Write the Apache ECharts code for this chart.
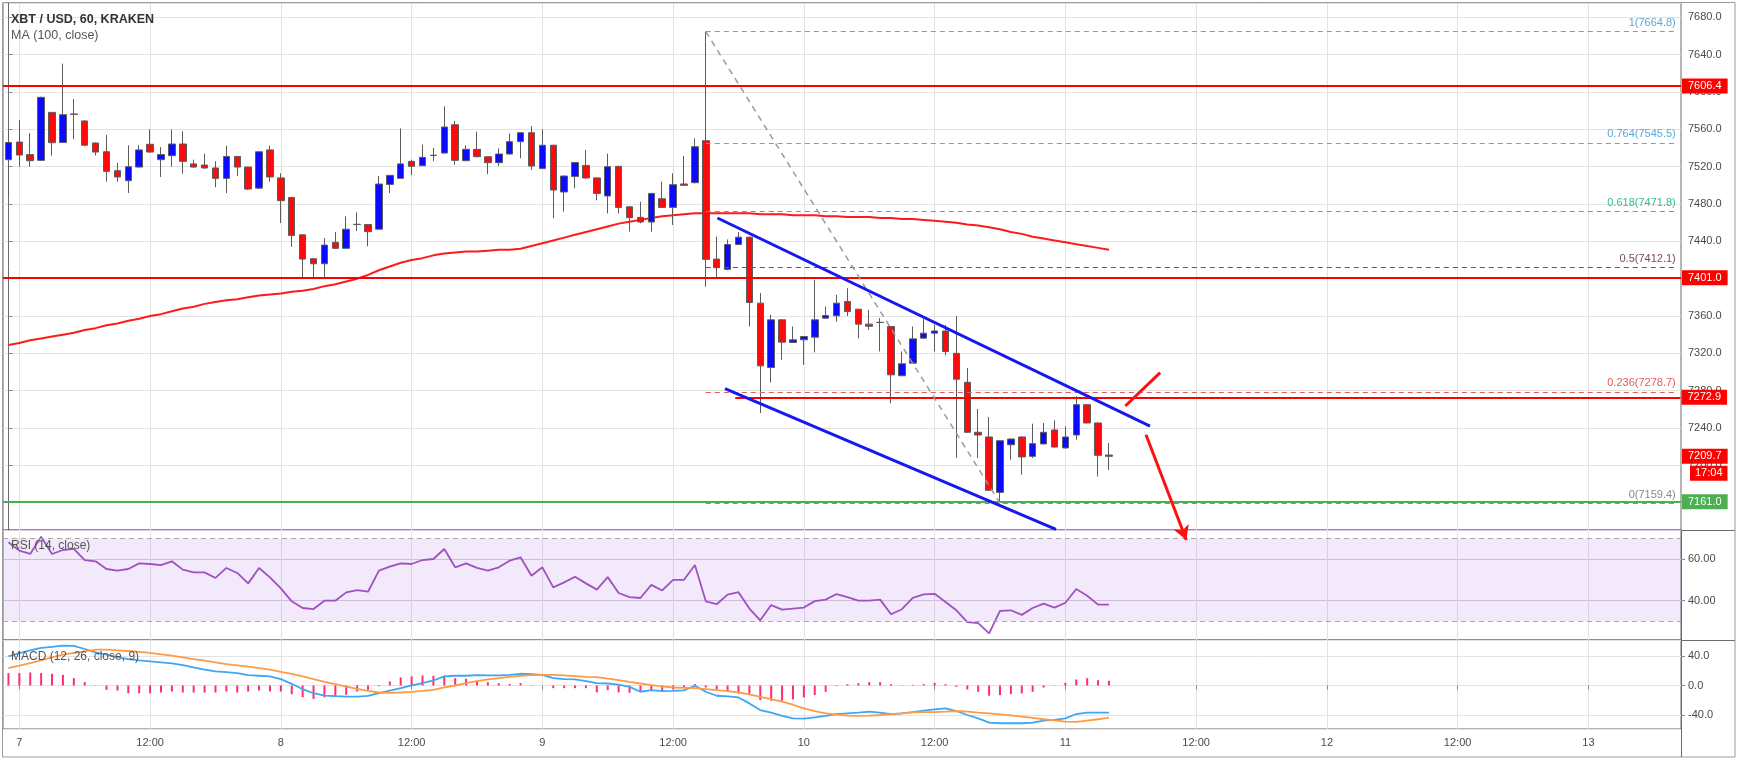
<!DOCTYPE html>
<html><head><meta charset="utf-8">
<script src="https://cdn.jsdelivr.net/npm/echarts@6/dist/echarts.min.js"></script>
<style>html,body{margin:0;padding:0;background:#fff;}#c{width:1739px;height:760px;}</style>
</head><body><div id="c"></div>
<script>
// ---------- DATA ----------
const startDay = 6, startHour = 23, slotCount = 154;

const open = [7527.5,7546.4,7533,7526.8,7578.2,7546,7576.5,7569,7545.4,7536,
7515.7,7505,7519.6,7544,7527.5,7531.8,7544.3,7523,7521.8,7518.6,
7507.5,7531,7519.6,7497,7538,7508,7487,7447,7421.4,7416,
7439,7432.5,7458.3,7458,7453,7501,7507.5,7525.7,7521,7532,
7534.6,7565,7526.4,7538.6,7530.7,7524.3,7533.6,7546.8,7556.4,7518,
7543,7492.9,7509.6,7521.4,7508,7488.6,7520.4,7477,7465.7,7460.7,
7485.7,7476.4,7501.5,7502.9,7547.9,7421,7410,7436.6,7444.5,7373.8,
7304.8,7355.9,7331.6,7334.5,7337.3,7357.7,7360.2,7375.5,7367.3,7351.3,
7353.3,7348.8,7296,7309.5,7336.3,7341.6,7344,7320,7289,7235.4,
7230.4,7171,7222,7230.4,7209.6,7222.9,7237.9,7218.6,7232.5,7265,
7245.4,7211];
const close = [7546,7532.5,7526.4,7594.3,7545.7,7575.7,7576,7543,7535.7,7515,
7509,7520,7538,7535.7,7533,7544.3,7525.7,7519.6,7518.6,7507.5,
7531,7519.6,7496,7536,7509,7483.6,7446.4,7421,7416,7436,
7432.5,7453,7458,7450.4,7501.4,7510.7,7523,7520.4,7530,7532.3,
7562.5,7526.8,7538.6,7530.7,7524.3,7533.6,7546.8,7556.4,7520.7,7543,
7495,7510,7524.6,7507.9,7491.4,7520,7476.4,7465.4,7460.7,7491.4,
7476.4,7500.7,7500,7541.4,7420.7,7411.8,7436.6,7444.5,7374.5,7306.6,
7355.9,7332,7334.5,7338,7355.9,7360.5,7373.8,7364.8,7351.3,7349,
7353,7297,7308.8,7335.5,7341.6,7344,7322,7292.3,7235.4,7232.5,
7173.2,7226.4,7228.2,7209,7223.2,7235.4,7219.6,7230.4,7265,7245.4,
7210.7,7209.7];
const low = [7489,7520,7520,7526,7531.8,7545.5,7549.6,7542,7532,7504,
7504,7491.8,7519,7535,7509,7520,7512.5,7519,7518,7498,
7491.8,7510,7495,7496,7504,7459.6,7434,7400.7,7401,7401,
7432,7432,7451,7434.6,7453,7491.8,7507,7511,7521,7526,
7534,7522,7526,7530,7512,7520.7,7533,7529,7516.4,7518,
7464.6,7471.8,7496.8,7507,7484,7470,7470,7450.4,7459.3,7450.4,
7476,7457.5,7499.5,7502,7391.4,7400,7409,7436,7348.8,7256,
7288.8,7313,7331,7307.7,7321,7357,7354,7360,7336,7345,
7322,7266.6,7296,7309,7336,7322,7318,7207.9,7235,7207.9,
7173,7159.4,7206,7190,7207.9,7222.5,7219,7218,7227.5,7245,
7188,7195];
const high = [7560,7570,7556,7595,7578.5,7630.4,7592.5,7570,7546,7554,
7524,7542.9,7543,7560,7541,7560,7558,7527.5,7534,7525.7,
7542.5,7531.5,7520,7536.5,7542.5,7513,7487.5,7447.5,7421.5,7443.6,
7450,7466.8,7471,7458.5,7510,7511,7561,7527.5,7543.6,7540,
7584.6,7569,7543,7557.5,7531,7539.6,7555.7,7557,7563.6,7560,
7543.5,7510.5,7525,7537.9,7508.5,7534,7520.5,7477.5,7482.5,7491.8,
7504,7512.9,7531.4,7550.4,7664.8,7445,7442,7450,7445,7384.5,
7361.3,7356.3,7348.8,7338.5,7398.8,7370.2,7382.7,7389.8,7367.5,7366.6,
7357.7,7349,7322,7348.8,7356.6,7350.5,7350.5,7360,7304.3,7260.4,
7251.8,7226.8,7228.5,7230.8,7244.6,7245.4,7248.2,7241.8,7274,7265.5,
7245.8,7224];
const ma100 = [7329,7331,7334,7336,7338,7340,7342,7345,7347,7350,
7352,7355,7357,7360,7362,7365,7368,7370,7373,7375,
7377,7378,7380,7382,7383,7384,7386,7387,7389,7392,
7394,7397,7400,7404,7409,7413,7417,7420,7422,7425,
7427,7428,7429,7429,7430,7431,7431,7432,7435,7438,
7441,7444,7447,7450,7453,7456,7459,7461,7463,7465,
7467,7468,7469,7470,7470,7470,7470,7470,7470,7469,
7469,7469,7468,7468,7468,7467,7467,7466,7466,7466,
7465,7465,7464,7464,7463,7462,7461,7460,7458,7457,
7455,7453,7450,7448,7445,7443,7441,7439,7437,7435,
7433,7431];
const rsi = [68.0,64.0,62.4,70.7,62.4,64.3,64.8,59.5,58.9,55.2,
54.4,55.2,57.9,57.6,57.1,58.9,54.9,53.6,53.6,50.9,
55.7,53.3,48.3,55.7,51.2,45.9,39.7,36.5,36.0,40.0,
40.0,44.0,45.1,44.3,54.4,56.3,57.9,57.6,59.5,60.0,
64.8,56.0,57.9,55.7,54.4,56.0,59.2,60.8,52.0,56.0,
46.4,48.8,51.5,48.3,45.3,51.3,43.7,41.7,41.3,47.6,
44.9,50.0,50.0,57.1,39.7,38.3,42.9,44.1,36.2,30.6,
37.9,35.7,36.2,36.7,39.8,40.5,43.2,41.7,40.0,40.0,
40.5,33.5,35.9,41.4,43.0,43.3,39.4,35.4,29.7,29.2,
24.3,35.1,35.4,33.2,36.5,38.6,36.7,39.0,45.6,42.4,
38.1,38.1];
const macd = [39.5,44,47.7,50.9,52.3,54,53.6,49.5,45,41.8,
38.6,35.9,34.1,32.7,31.4,30,27.7,24.5,21.4,19.1,
18.2,16.8,14.1,13.2,12.3,8.6,2.3,-5,-10.5,-13.6,
-14.5,-15,-15,-14.1,-10.5,-6.8,-3.6,0,3.2,6.8,
12.3,13.2,13.2,14.1,13.6,13.6,14.5,15.9,15.5,14.5,
10,8.6,8.2,5.9,3.2,2.7,1.3,-1.8,-8.5,-6.3,
-7.6,-7.2,-6.7,-0.4,-8.5,-13.9,-14.8,-16.2,-24.3,-33.3,
-36.9,-41.3,-44.5,-44.9,-43.1,-41.3,-38.7,-37.8,-36.9,-35.5,
-36.9,-38.7,-37.8,-36,-34.2,-32.4,-31,-34.6,-40,-44.5,
-50.3,-51.2,-51.2,-51.2,-50.3,-47.6,-46.7,-44.5,-38.7,-36.9,
-36.9,-36.9];
const signal = [23.6,26.8,30.5,34.1,38.2,41.8,44.1,46.4,48.6,48.6,
47.7,46.8,45.5,44.1,42.3,40.5,38.2,35.9,33.6,31.4,
29.1,27.3,25.5,23.6,21.4,18.6,15.9,12.3,8.6,5,
1.8,-1.4,-4.5,-7.3,-9.5,-10,-9.5,-8.6,-7.3,-5.9,
-2.7,0,3.2,5.9,8.2,10,11.8,13.2,14.1,14.5,
14.5,13.6,12.7,11.8,11.4,9.4,7.2,4.9,2.7,0.4,
-1.3,-2.7,-3.1,-3.6,-4.9,-6.3,-7.6,-9.4,-12.1,-15.3,
-18.4,-22,-26.1,-31,-34.6,-37.8,-39.6,-40.9,-41.3,-40.9,
-40,-38.7,-37.8,-36.4,-36,-36,-35.5,-34.6,-35.5,-36.9,
-37.8,-39.1,-40.4,-42.2,-44,-45.8,-47.2,-49,-49.4,-47.6,
-45.8,-43.6];
const hist = [16.8,16.8,17.7,16.8,15.9,14.5,10,4.5,-0.5,-5.9,
-6.8,-10.5,-10.5,-10.5,-9.5,-8.2,-9.5,-9.5,-9.5,-9.5,
-8.2,-9.5,-8.2,-6.8,-8.2,-8.2,-11.8,-15.9,-18.2,-15.9,
-14.1,-12.7,-8.2,-5.9,-1,5.5,10.9,12.3,13.6,13.2,
13.2,10,9.1,5.5,4.5,3.2,2.3,3.2,0.5,0,
-3.6,-3.6,-3.6,-3.6,-9.4,-6.3,-9.4,-9.9,-8.5,-7.6,
-8.5,-5.4,-2.7,1.8,-2.7,-5.4,-8.5,-10.8,-13,-19.8,
-20.7,-20.7,-18.9,-16.2,-13,-8.5,-0.9,1.8,3.1,4.5,
4.5,1.8,0.4,0.9,1.8,3.6,1.8,-1.8,-5.4,-8.5,
-13.9,-13,-11.7,-10.8,-8.5,-2.7,-0.4,3.6,8.1,9.9,
7.2,6.3];

const fibLevels = [1, 0.764, 0.618, 0.5, 0.236, 0];
const fibPrices = [7664.8, 7545.5, 7471.8, 7412.1, 7278.7, 7159.4];
const fibStartX = 64, fibEndX = 153.2;
const fibDiagonal = [[64, 7664.8], [91, 7159.4]];
const upperChannel = [[65.07, 7465.0], [104.77, 7242.1]];
const lowerChannel = [[65.76, 7282.3], [96.14, 7131.4]];
const upStroke = [[102.5, 7263.6], [105.7, 7299.3]];
const downArrow = [[104.4, 7232.8], [108.1, 7120.0]];
const resistanceLevels = [7606.4, 7401.0];
const midLevel = 7272.9, midLevelStartX = 66.7;
const supportLevel = 7161.0;
const lastPrice = 7209.7;
const countdownText = '17:04', countdownY = 7191.6;
const rsiBand = [30, 70];
const titles = ['XBT / USD, 60, KRAKEN', 'MA (100, close)', 'RSI (14, close)', 'MACD (12, 26, close, 9)'];

// ---------- CHART ----------
const FONT = '"Liberation Sans", Arial, sans-serif';
const categories = [];
for (let i = 0; i < slotCount; i++) {
  const t = startHour + i, d = startDay + Math.floor(t / 24), h = t % 24;
  categories.push(d + ' ' + (h < 10 ? '0' : '') + h + ':00');
}
const major = (idx, val) => { const v = categories[idx]; return v.endsWith(' 00:00') || v.endsWith(' 12:00'); };
const fmtX = (v) => v.endsWith(' 00:00') ? v.split(' ')[0] : '12:00';

const gridBase = { left: 3, right: 58, show: true, borderColor: '#6a6a6a', borderWidth: 1 };
const xCat = (gi, lab) => ({
  type: 'category', gridIndex: gi, data: categories, boundaryGap: true,
  axisLine: { show: false },
  axisTick: { show: lab, interval: major, alignWithLabel: true, length: 4, lineStyle: { color: '#888' } },
  axisLabel: { show: lab, interval: major, formatter: fmtX, color: '#4a4a4a', fontSize: 11, fontFamily: FONT, margin: 8 },
  splitLine: { show: true, interval: major, alignWithLabel: true, lineStyle: { color: '#e3e3e3', width: 1 } }
});
const yBase = (gi, min, max, step, dec, splitColor) => ({
  type: 'value', gridIndex: gi, position: 'right', min, max, minInterval: step, maxInterval: step, scale: true,
  axisLine: { show: true, lineStyle: { color: '#6a6a6a' } },
  axisTick: { show: true, length: 4, lineStyle: { color: '#888' } },
  axisLabel: { color: '#4a4a4a', fontSize: 11, fontFamily: FONT, margin: 7, showMinLabel: false, showMaxLabel: false,
               formatter: (v) => v.toFixed(dec) },
  splitLine: { show: true, lineStyle: { color: splitColor } }
});
const tagLabel = (txt, bg, dist) => ({
  show: true, position: 'end', formatter: txt, backgroundColor: bg, color: '#fff',
  fontSize: 11, fontFamily: FONT, padding: [2, 6, 2, 6], lineHeight: 11, distance: dist
});
const hiddenLine = { color: 'rgba(0,0,0,0)', width: 0.01, type: 'solid' };

const fibColors = ['#5aa9d6', '#5aa9d6', '#2fbf86', '#7a4a60', '#e35b5b', '#8a8a8a'];
const fibLines = fibLevels.map((lv, k) => [
  { coord: [fibStartX, fibPrices[k]], lineStyle: { color: fibColors[k], type: [5, 4], width: 1 },
    label: { show: true, position: 'insideEndTop', formatter: lv + '(' + fibPrices[k].toFixed(1) + ')',
             color: fibColors[k], fontSize: 11, fontFamily: FONT, distance: [2, 3] } },
  { coord: [fibEndX, fibPrices[k]] }
]);
const levelLines = [
  ...resistanceLevels.map(p => ({ yAxis: p, lineStyle: { color: '#ff0000', width: 2, type: 'solid' },
                                  label: tagLabel(p.toFixed(1), '#ff0000', 1) })),
  [{ coord: [midLevelStartX, midLevel], lineStyle: { color: '#ff0000', width: 2, type: 'solid' },
     label: tagLabel(midLevel.toFixed(1), '#ff0000', 1) }, { coord: [153.45, midLevel] }],
  { yAxis: supportLevel, lineStyle: { color: '#4caf50', width: 2, type: 'solid' },
    label: tagLabel(supportLevel.toFixed(1), '#4caf50', 1) },
  { yAxis: lastPrice, lineStyle: hiddenLine, label: tagLabel(lastPrice.toFixed(1), '#ff0000', 1) },
  { yAxis: countdownY, lineStyle: hiddenLine, label: Object.assign(tagLabel(countdownText, '#ff0000', 9), { padding: [2, 5, 2, 5] }) }
];

const option = {
  animation: false,
  backgroundColor: '#ffffff',
  title: [
    { text: titles[0], left: 11, top: 13, padding: 0, textStyle: { fontSize: 12.5, fontWeight: 'bold', color: '#333', fontFamily: FONT } },
    { text: titles[1], left: 11, top: 29, padding: 0, textStyle: { fontSize: 12.5, fontWeight: 'normal', color: '#555', fontFamily: FONT } },
    { text: titles[2], left: 11, top: 540, padding: 0, textStyle: { fontSize: 12, fontWeight: 'normal', color: '#555', fontFamily: FONT } },
    { text: titles[3], left: 11, top: 651, padding: 0, textStyle: { fontSize: 12, fontWeight: 'normal', color: '#555', fontFamily: FONT } }
  ],
  grid: [
    Object.assign({ top: 3, height: 527 }, gridBase),
    Object.assign({ top: 530, height: 110 }, gridBase),
    Object.assign({ top: 640, height: 89 }, gridBase)
  ],
  xAxis: [
    xCat(0, false),
    { type: 'value', gridIndex: 0, min: -0.5, max: slotCount - 0.5, show: false },
    xCat(1, false),
    xCat(2, true)
  ],
  yAxis: [
    yBase(0, 7130.7, 7695.4, 40, 1, '#e3e3e3'),
    yBase(1, 21.15, 73.9, 20, 2, '#d6cbe2'),
    yBase(2, -59, 61.7, 40, 1, '#e3e3e3')
  ],
  series: [
    { type: 'line', xAxisIndex: 0, yAxisIndex: 0, data: ma100, symbol: 'none', silent: true,
      lineStyle: { color: '#ff1a1a', width: 2 }, z: 3 },
    { type: 'candlestick', xAxisIndex: 0, yAxisIndex: 0, barWidth: 7, silent: true,
      data: open.map((o, i) => [o, close[i], low[i], high[i]]),
      itemStyle: { color: '#0a0aff', color0: '#ff0a0a', borderColor: '#5c5c5c', borderColor0: '#5c5c5c', borderWidth: 1 }, z: 4 },
    { type: 'line', xAxisIndex: 1, yAxisIndex: 0, data: fibDiagonal, symbol: 'none', silent: true,
      lineStyle: { color: '#9a9a9a', width: 1.5, type: [6, 5] }, z: 5,
      markLine: { silent: true, symbol: ['none', 'none'], animation: false, data: fibLines.concat(levelLines) } },
    { type: 'line', xAxisIndex: 1, yAxisIndex: 0, data: upperChannel, symbol: 'none', silent: true,
      lineStyle: { color: '#1717f2', width: 3 }, z: 6 },
    { type: 'line', xAxisIndex: 1, yAxisIndex: 0, data: lowerChannel, symbol: 'none', silent: true, clip: false,
      lineStyle: { color: '#1717f2', width: 3 }, z: 6 },
    { type: 'line', xAxisIndex: 1, yAxisIndex: 0, data: upStroke, symbol: 'none', silent: true, clip: false,
      lineStyle: { color: '#ff1010', width: 3 }, z: 7 },
    { type: 'line', xAxisIndex: 1, yAxisIndex: 0, silent: true, clip: false, showSymbol: true, z: 7,
      lineStyle: { color: '#ff1010', width: 3 }, itemStyle: { color: '#ff1010' },
      data: [
        { value: downArrow[0], symbol: 'none' },
        { value: downArrow[1], symbol: 'arrow', symbolSize: [12, 14], symbolRotate: 201, symbolOffset: [0, 0] }
      ] },
    { type: 'line', xAxisIndex: 2, yAxisIndex: 1, data: rsi, symbol: 'none', silent: true,
      lineStyle: { color: '#a050c0', width: 1.8 }, z: 4,
      markArea: { silent: true, itemStyle: { color: 'rgba(155, 90, 220, 0.13)' }, data: [[{ yAxis: rsiBand[0] }, { yAxis: rsiBand[1] }]] },
      markLine: { silent: true, symbol: ['none', 'none'], label: { show: false }, animation: false,
        lineStyle: { color: '#a8a8a8', type: [5, 4], width: 1 }, data: [{ yAxis: rsiBand[1] }, { yAxis: rsiBand[0] }] } },
    { type: 'bar', xAxisIndex: 3, yAxisIndex: 2, data: hist, barWidth: 2, silent: true,
      itemStyle: { color: '#ff2d6f' }, z: 3 },
    { type: 'line', xAxisIndex: 3, yAxisIndex: 2, data: macd, symbol: 'none', silent: true,
      lineStyle: { color: '#3ea6f2', width: 1.8 }, z: 4 },
    { type: 'line', xAxisIndex: 3, yAxisIndex: 2, data: signal, symbol: 'none', silent: true,
      lineStyle: { color: '#ff9a45', width: 1.8 }, z: 4 }
  ],
  graphic: [
    { type: 'rect', silent: true, z: 100, shape: { x: 2.5, y: 2.5, width: 1732.5, height: 754.5 }, style: { fill: null, stroke: '#9a9a9a', lineWidth: 1 } },
    { type: 'line', silent: true, z: 100, shape: { x1: 1681, y1: 530.5, x2: 1735, y2: 530.5 }, style: { stroke: '#6a6a6a', lineWidth: 1 } },
    { type: 'line', silent: true, z: 100, shape: { x1: 1681, y1: 640.5, x2: 1735, y2: 640.5 }, style: { stroke: '#6a6a6a', lineWidth: 1 } },
    { type: 'line', silent: true, z: 100, shape: { x1: 1681.5, y1: 729, x2: 1681.5, y2: 757 }, style: { stroke: '#6a6a6a', lineWidth: 1 } }
  ]
};
const chart = echarts.init(document.getElementById('c'), null, { renderer: 'canvas' });
chart.setOption(option);
</script>
</body></html>
